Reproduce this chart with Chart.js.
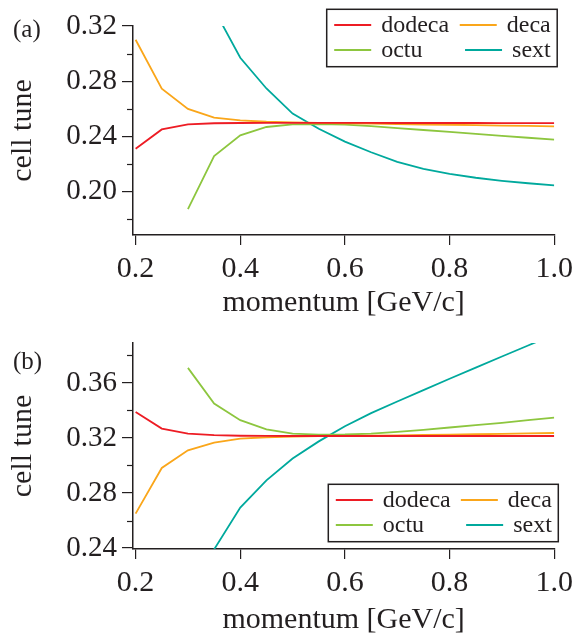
<!DOCTYPE html>
<html>
<head>
<meta charset="utf-8">
<title>cell tune vs momentum</title>
<script src="https://cdn.jsdelivr.net/npm/chart.js@4.4.0/dist/chart.umd.min.js"></script>
<style>
  html, body { margin: 0; padding: 0; background: #fff; }
  canvas { display: block; }
</style>
</head>
<body>
<canvas id="chartA" width="579" height="318"></canvas>
<canvas id="chartB" width="579" height="315"></canvas>
<script>
// momentum grid [GeV/c]
const momentum = [0.20, 0.25, 0.30, 0.35, 0.40, 0.45, 0.50, 0.55, 0.60,
                  0.65, 0.70, 0.75, 0.80, 0.85, 0.90, 0.95, 1.00];
const xTicks = [0.2, 0.4, 0.6, 0.8, 1.0];

const seriesNames = ['dodeca', 'deca', 'octu', 'sext'];
const seriesColors = ['#ed1c24', '#faa61a', '#8dc63f', '#00a99d'];

// panel (a)
const yTicksA = [0.20, 0.24, 0.28, 0.32];
const yMinorA = [0.18, 0.22, 0.26, 0.30];
const dodecaA = [0.2310, 0.2450, 0.2487, 0.2495, 0.2497, 0.2498, 0.2498, 0.2498, 0.2498,
                 0.2498, 0.2497, 0.2497, 0.2497, 0.2497, 0.2496, 0.2496, 0.2496];
const decaA   = [0.3100, 0.2745, 0.2599, 0.2536, 0.2516, 0.2506, 0.2501, 0.2498, 0.2495,
                 0.2492, 0.2489, 0.2486, 0.2484, 0.2481, 0.2478, 0.2476, 0.2473];
const octuA   = [null, null, 0.1872, 0.2257, 0.2407, 0.2468, 0.2487, 0.2489, 0.2485,
                 0.2474, 0.2460, 0.2446, 0.2432, 0.2418, 0.2404, 0.2390, 0.2376];
const sextA   = [null, null, null, 0.3320, 0.2970, 0.2747, 0.2565, 0.2455, 0.2362,
                 0.2285, 0.2215, 0.2165, 0.2128, 0.2100, 0.2078, 0.2060, 0.2044];

// panel (b)
const yTicksB = [0.24, 0.28, 0.32, 0.36];
const yMinorB = [0.26, 0.30, 0.34, 0.38];
const dodecaB = [0.3389, 0.3268, 0.3232, 0.3220, 0.3216, 0.3215, 0.3214, 0.3214, 0.3214,
                 0.3214, 0.3214, 0.3214, 0.3214, 0.3214, 0.3214, 0.3214, 0.3214];
const decaB   = [0.2650, 0.2982, 0.3110, 0.3166, 0.3195, 0.3205, 0.3210, 0.3213, 0.3215,
                 0.3217, 0.3219, 0.3222, 0.3224, 0.3227, 0.3230, 0.3233, 0.3236];
const octuB   = [null, null, 0.3709, 0.3450, 0.3329, 0.3263, 0.3232, 0.3224, 0.3225,
                 0.3232, 0.3244, 0.3259, 0.3276, 0.3293, 0.3310, 0.3329, 0.3348];
const sextB   = [null, null, null, 0.2390, 0.2694, 0.2892, 0.3050, 0.3175, 0.3285,
                 0.3380, 0.3465, 0.3548, 0.3630, 0.3711, 0.3792, 0.3872, 0.3952];

const ink = '#231f20';
const serif = '"Liberation Serif", "Times New Roman", serif';

// minor y ticks, panel letter and the boxed legend inside the plot
const panelDecor = {
    id: 'panelDecor',
    afterDraw(chart, args, o) {
        const ctx = chart.ctx;
        const ys = chart.scales.y;
        ctx.save();
        ctx.strokeStyle = ink;
        ctx.lineWidth = 1.2;
        o.minor.forEach(v => {
            const py = Math.round(ys.getPixelForValue(v)) + 0.5;
            ctx.beginPath();
            ctx.moveTo(ys.right - 6, py);
            ctx.lineTo(ys.right, py);
            ctx.stroke();
        });

        ctx.fillStyle = ink;
        ctx.font = '25px ' + serif;
        ctx.textBaseline = 'alphabetic';
        ctx.textAlign = 'left';
        ctx.fillText(o.letter, 13, o.letterY);

        const b = o.box;
        ctx.lineWidth = 1.5;
        ctx.strokeRect(b.x, b.y, b.w, b.h);
        ctx.font = '24px ' + serif;
        chart.data.datasets.forEach((ds, i) => {
            const col = i % 2, row = Math.floor(i / 2);
            const ly = b.y + 15.7 + row * 25;
            let x0, x1, tx;
            if (col === 0) {
                x0 = b.x + 7.5; x1 = x0 + 37; tx = x1 + 10;
                ctx.textAlign = 'left';
            } else {
                tx = b.x + b.w - 6.5;
                const tw = ctx.measureText(ds.label).width;
                x1 = tx - tw - 10; x0 = x1 - 37;
                ctx.textAlign = 'right';
            }
            ctx.strokeStyle = ds.borderColor;
            ctx.lineWidth = 1.8;
            ctx.beginPath();
            ctx.moveTo(x0, ly);
            ctx.lineTo(x1, ly);
            ctx.stroke();
            ctx.fillStyle = ink;
            ctx.fillText(ds.label, tx, ly + 6.7);
        });
        ctx.restore();
    }
};

function makePanel(id, series, yTicks, yMinor, yMin, yMax, g) {
    return new Chart(document.getElementById(id), {
        type: 'line',
        data: {
            datasets: series.map((vals, i) => ({
                label: seriesNames[i],
                data: momentum.map((m, k) => ({ x: m, y: vals[k] })),
                borderColor: seriesColors[i],
                borderWidth: 1.8,
                pointRadius: 0,
                tension: 0,
                fill: false,
                spanGaps: false
            }))
        },
        options: {
            responsive: false,
            animation: false,
            events: [],
            layout: { padding: { top: g.top, right: 21, left: 0, bottom: 0 } },
            plugins: {
                legend: { display: false },
                tooltip: { enabled: false },
                panelDecor: { minor: yMinor, letter: g.letter, letterY: g.letterY, box: g.box }
            },
            scales: {
                x: {
                    type: 'linear',
                    min: 0.195,
                    max: 1.0,
                    afterFit: s => { s.height = g.xHeight; },
                    afterBuildTicks: s => { s.ticks = xTicks.map(v => ({ value: v })); },
                    grid: { drawOnChartArea: false, drawTicks: true, tickLength: 10, color: ink, lineWidth: 1.2 },
                    border: { color: ink, width: 1.5 },
                    ticks: {
                        font: { family: serif, size: 30 },
                        color: ink,
                        padding: 6,
                        maxRotation: 0,
                        autoSkip: false,
                        callback: v => v.toFixed(1)
                    },
                    title: {
                        display: true,
                        text: 'momentum [GeV/c]',
                        color: ink,
                        font: { family: serif, size: 30, lineHeight: 1 },
                        padding: { top: 0, bottom: g.xTitlePad }
                    }
                },
                y: {
                    min: yMin,
                    max: yMax,
                    afterFit: s => { s.width = 133; },
                    afterBuildTicks: s => { s.ticks = yTicks.map(v => ({ value: v })); },
                    grid: { drawOnChartArea: false, drawTicks: true, tickLength: 11, color: ink, lineWidth: 1.2 },
                    border: { color: ink, width: 1.5 },
                    ticks: {
                        font: { family: serif, size: 29 },
                        color: ink,
                        padding: 5,
                        autoSkip: false,
                        callback: v => v.toFixed(2)
                    },
                    title: {
                        display: true,
                        text: 'cell tune',
                        color: ink,
                        font: { family: serif, size: 30, lineHeight: 1 },
                        padding: { top: 8, bottom: 0 }
                    }
                }
            }
        },
        plugins: [panelDecor]
    });
}

makePanel('chartA', [dodecaA, decaA, octuA, sextA], yTicksA, yMinorA, 0.1685, 0.32, {
    top: 26, xHeight: 83, xTitlePad: 0, letter: '(a)', letterY: 37,
    box: { x: 326.7, y: 9.3, w: 230.5, h: 57.4 }
});
makePanel('chartB', [dodecaB, decaB, octuB, sextB], yTicksB, yMinorB, 0.2393, 0.389, {
    top: 25, xHeight: 84, xTitlePad: -2, letter: '(b)', letterY: 51,
    box: { x: 328.3, y: 166.3, w: 230, h: 57.4 }
});
</script>
</body>
</html>
